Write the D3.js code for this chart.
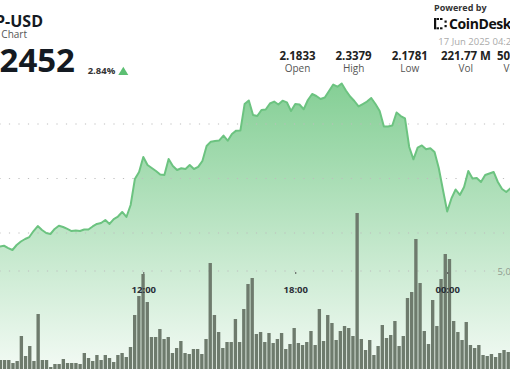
<!DOCTYPE html>
<html>
<head>
<meta charset="utf-8">
<script src="https://cdn.jsdelivr.net/npm/d3@7"></script>
<style>
  body { margin: 0; background: #fff; overflow: hidden; }
  svg { display: block; font-family: "Open Sans", sans-serif; }
</style>
</head>
<body>
<div id="chart"></div>
<script>
// 10 minute closes, starting 16 Jun 06:20
const prices = [
  2.1876, 2.1883, 2.1862, 2.1844, 2.1890, 2.1922, 2.1945, 2.1963, 2.2018, 2.2064,
  2.2028, 2.2000, 2.1991, 2.2037, 2.2067, 2.2055, 2.2037, 2.2018, 2.2023, 2.2018,
  2.2032, 2.2032, 2.2060, 2.2083, 2.2092, 2.2119, 2.2083, 2.2128, 2.2151, 2.2193,
  2.2147, 2.2257, 2.2495, 2.2560, 2.2697, 2.2624, 2.2596, 2.2569, 2.2537, 2.2532,
  2.2679, 2.2615, 2.2578, 2.2594, 2.2587, 2.2624, 2.2587, 2.2606, 2.2661, 2.2798,
  2.2838, 2.2844, 2.2849, 2.2894, 2.2847, 2.2908, 2.2939, 2.2940, 2.3183, 2.3216,
  2.3083, 2.3073, 2.3128, 2.3133, 2.3188, 2.3206, 2.3179, 2.3214, 2.3199, 2.3119,
  2.3183, 2.3179, 2.3135, 2.3220, 2.3275, 2.3257, 2.3229, 2.3243, 2.3303, 2.3362,
  2.3342, 2.3372, 2.3307, 2.3252, 2.3211, 2.3161, 2.3183, 2.3206, 2.3239, 2.3183,
  2.3119, 2.2977, 2.2977, 2.2986, 2.3106, 2.3073, 2.3052, 2.2789, 2.2676, 2.2783,
  2.2803, 2.2768, 2.2777, 2.2743, 2.2596, 2.2394, 2.2197, 2.2317, 2.2399, 2.2349,
  2.2422, 2.2569, 2.2500, 2.2505, 2.2468, 2.2532, 2.2546, 2.2560, 2.2468, 2.2404,
  2.2376, 2.2410, 2.2440
];

// volume per bar, in millions
const volumes = [
  0.55, 0.55, 0.55, 0.40, 0.50, 1.75, 0.75, 1.25, 0.50, 2.85,
  0.55, 0.55, 0.20, 0.35, 0.35, 0.60, 0.40, 0.40, 0.40, 0.35,
  0.90, 0.65, 0.50, 0.80, 0.55, 0.80, 0.65, 0.45, 0.80, 0.90,
  0.70, 1.20, 2.80, 3.75, 4.85, 3.45, 1.70, 1.70, 2.10, 1.60,
  1.70, 0.90, 1.15, 1.50, 0.90, 0.85, 1.10, 1.10, 0.85, 1.60,
  5.40, 2.80, 1.95, 1.15, 1.45, 1.45, 2.60, 1.45, 3.10, 4.35,
  4.65, 1.85, 1.95, 1.45, 1.90, 1.40, 1.60, 1.90, 1.10, 1.35,
  2.15, 1.40, 1.30, 1.45, 2.00, 1.30, 3.10, 1.50, 2.80, 2.40,
  1.55, 2.00, 2.25, 2.15, 1.75, 7.90, 1.60, 1.05, 1.55, 0.80,
  1.25, 2.30, 1.65, 1.80, 2.50, 1.25, 1.75, 3.65, 3.95, 6.60,
  4.40, 2.00, 1.35, 3.55, 2.25, 4.60, 5.85, 5.60, 2.50, 1.95,
  1.55, 2.45, 1.30, 1.15, 1.30, 0.80, 0.75, 0.85, 0.70, 0.90,
  1.05, 0.95
];

const startTime = new Date(2025, 5, 16, 6, 20);
const priceTicks = [2.20, 2.25, 2.30];
const volumeTicks = [5000000];
const statValues = ["2.1833", "2.3379", "2.1781", "221.77 M", "501.92 M"];
const statLabels = ["Open", "High", "Low", "Vol", "Vol USD"];

const width = 510, height = 369;

const svg = d3.select("#chart")
    .append("svg")
    .attr("width", width)
    .attr("height", height);

const series = prices.map((p, i) => ({
    time: d3.timeMinute.offset(startTime, i * 10),
    price: p
}));

// scales
const x = d3.scaleTime()
    .domain([new Date(2025, 5, 16, 12, 0), new Date(2025, 5, 17, 0, 0)])
    .range([143.3, 447.2]);

const xBar = d3.scaleBand()
    .domain(d3.range(volumes.length))
    .range([-1.3, 509.9])
    .paddingInner(0.2);

const y = d3.scaleLinear()
    .domain([2.20, 2.30])
    .range([233, 124]);

const yVol = d3.scaleLinear()
    .domain([0, 5000000])
    .range([371, 271]);

// gradient for the area
const defs = svg.append("defs");
const grad = defs.append("linearGradient")
    .attr("id", "areaFill")
    .attr("gradientUnits", "userSpaceOnUse")
    .attr("x1", 0).attr("x2", 0)
    .attr("y1", 84).attr("y2", 372);
grad.append("stop").attr("offset", "0%").attr("stop-color", "#5cbf72").attr("stop-opacity", 0.75);
grad.append("stop").attr("offset", "100%").attr("stop-color", "#5cbf72").attr("stop-opacity", 0.07);

// area + line
const area = d3.area()
    .x(d => x(d.time))
    .y0(372)
    .y1(d => y(d.price));

svg.append("path")
    .datum(series)
    .attr("d", area)
    .attr("fill", "url(#areaFill)");

// dotted grid
svg.append("g")
    .selectAll("line")
    .data(priceTicks)
    .join("line")
    .attr("x1", -0.6).attr("x2", width)
    .attr("y1", d => y(d)).attr("y2", d => y(d))
    .attr("stroke", "#bdbdbd")
    .attr("stroke-width", 1.2)
    .attr("stroke-dasharray", "1.2 8.3");

svg.append("g")
    .selectAll("line")
    .data(volumeTicks)
    .join("line")
    .attr("x1", -0.6).attr("x2", width)
    .attr("y1", d => yVol(d)).attr("y2", d => yVol(d))
    .attr("stroke", "#bdbdbd")
    .attr("stroke-width", 1.2)
    .attr("stroke-dasharray", "1.2 8.3");

const line = d3.line()
    .x(d => x(d.time))
    .y(d => y(d.price));

svg.append("path")
    .datum(series)
    .attr("d", line)
    .attr("fill", "none")
    .attr("stroke", "#6cc380")
    .attr("stroke-width", 2)
    .attr("stroke-linejoin", "round");

// volume bars
svg.append("g")
    .selectAll("rect")
    .data(volumes)
    .join("rect")
    .attr("x", (d, i) => xBar(i))
    .attr("y", d => yVol(d * 1e6))
    .attr("width", xBar.bandwidth())
    .attr("height", d => yVol(0) - yVol(d * 1e6))
    .attr("fill", "#6e7b6d");

// volume axis label
svg.append("g")
    .selectAll("text")
    .data(volumeTicks)
    .join("text")
    .attr("x", 497.5)
    .attr("y", d => yVol(d) + 3.5)
    .style("font-size", "9.5px")
    .style("fill", "#8f9a8f")
    .text(d => d3.format(",")(d));

// small tick marks under the volume grid line
svg.append("g")
    .attr("transform", "translate(0,272)")
    .call(d3.axisBottom(x)
        .ticks(d3.timeHour.every(6))
        .tickSize(2)
        .tickFormat(""))
    .call(g => g.select(".domain").remove())
    .call(g => g.selectAll("line").attr("stroke", "#555"));

// time axis
const xAxis = svg.append("g")
    .attr("transform", "translate(0,283)")
    .call(d3.axisBottom(x)
        .ticks(d3.timeHour.every(6))
        .tickFormat(d3.timeFormat("%H:%M"))
        .tickSize(0)
        .tickPadding(3));
xAxis.select(".domain").remove();
xAxis.selectAll("text")
    .style("font-family", "'Open Sans', sans-serif")
    .style("font-size", "9.5px")
    .style("font-weight", "700")
    .style("fill", "#2b3038");

// header, left
svg.append("text")
    .attr("x", 43).attr("y", 27)
    .attr("text-anchor", "end")
    .style("font-size", "16px")
    .style("font-weight", "700")
    .style("fill", "#141a22")
    .text("XRP-USD");

svg.append("text")
    .attr("x", 27).attr("y", 38)
    .attr("text-anchor", "end")
    .style("font-size", "10px")
    .style("fill", "#555")
    .text("24 Hour Chart");

svg.append("text")
    .attr("x", 75).attr("y", 72)
    .attr("text-anchor", "end")
    .style("font-size", "33px")
    .style("font-weight", "700")
    .style("fill", "#141a22")
    .text("2.2452");

svg.append("text")
    .attr("x", 87.7).attr("y", 74)
    .style("font-size", "9.5px")
    .style("font-weight", "700")
    .style("fill", "#333")
    .text("2.84%");

svg.append("path")
    .attr("d", "M118.3,75 L123.3,66.7 L128.3,75 Z")
    .attr("fill", "#5cbf72");

// header, right
svg.append("text")
    .attr("x", 434).attr("y", 10.5)
    .style("font-size", "9px")
    .style("font-weight", "700")
    .style("fill", "#333")
    .text("Powered by");

const logo = svg.append("g").attr("fill", "#111");
[[434, 18, 2.2, 11.3], [436.5, 18, 2.5, 2], [440, 18, 2.5, 2], [436.5, 27.3, 2.5, 2],
 [440, 27.3, 2.5, 2], [444.5, 20.5, 2.2, 2.2], [444.5, 25, 2.2, 2.2]]
    .forEach(r => logo.append("rect").attr("x", r[0]).attr("y", r[1]).attr("width", r[2]).attr("height", r[3]));

svg.append("text")
    .attr("x", 449).attr("y", 29.3)
    .style("font-size", "14px")
    .style("font-weight", "700")
    .style("letter-spacing", "-0.4px")
    .style("fill", "#111")
    .text("CoinDesk");

svg.append("text")
    .attr("x", 438.3).attr("y", 45)
    .style("font-size", "9.5px")
    .style("fill", "#aaa")
    .text("17 Jun 2025 04:21");

// stats row
const statX = d3.scalePoint()
    .domain(d3.range(statValues.length))
    .range([297.5, 522]);

svg.append("g")
    .selectAll("text")
    .data(statValues)
    .join("text")
    .attr("x", (d, i) => statX(i))
    .attr("y", 60)
    .attr("text-anchor", "middle")
    .style("font-size", "11.5px")
    .style("font-weight", "700")
    .style("fill", "#222")
    .text(d => d);

svg.append("g")
    .selectAll("text")
    .data(statLabels)
    .join("text")
    .attr("x", (d, i) => statX(i))
    .attr("y", 71.5)
    .attr("text-anchor", "middle")
    .style("font-size", "10px")
    .style("fill", "#555")
    .text(d => d);
</script>
</body>
</html>
